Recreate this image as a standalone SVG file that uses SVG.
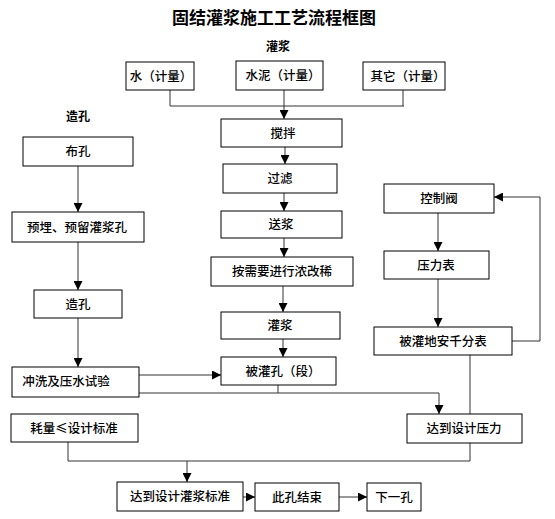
<svg xmlns="http://www.w3.org/2000/svg" width="555" height="519" viewBox="0 0 555 519">
<defs>
<marker id="ah" markerUnits="userSpaceOnUse" markerWidth="9" markerHeight="9" viewBox="0 0 10 10" refX="10" refY="5" orient="auto">
<path d="M0,0 L10,5 L0,10 Z" fill="#000"/>
</marker>
</defs>
<style>
.box{fill:#fff;stroke:#000;stroke-width:1}
.t{font-family:"Noto Sans CJK SC","Noto Sans CJK JP",sans-serif;font-size:12.5px;font-weight:500;fill:#000;text-anchor:middle}
.h{font-family:"Noto Sans CJK SC","Noto Sans CJK JP",sans-serif;font-weight:bold;fill:#000;text-anchor:middle}
.ln{fill:none;stroke:#333;stroke-width:1}
.ar{fill:none;stroke:#333;stroke-width:1;marker-end:url(#ah)}
</style>
<rect width="555" height="519" fill="#fff"/>
<text class="h" x="274" y="24" font-size="17">固结灌浆施工工艺流程框图</text>
<text class="h" x="278" y="51" font-size="12">灌浆</text>
<text class="h" x="78" y="121" font-size="12">造孔</text>

<g id="connectors">
<path class="ln" d="M170,90 V106 M403,90 V106 M170,106 H404"/>
<path class="ar" d="M284,90 V119"/>
<path class="ar" d="M285,147 V164"/>
<path class="ar" d="M284,193 V211"/>
<path class="ar" d="M284,238 V257"/>
<path class="ar" d="M283,286 V312"/>
<path class="ar" d="M283,339 V357"/>
<path class="ar" d="M78,166 V212"/>
<path class="ar" d="M78,242 V290"/>
<path class="ar" d="M78,318 V367"/>
<path class="ar" d="M139,375 H221"/>
<path class="ln" d="M139,393 H439 M278,385 V393"/>
<path class="ar" d="M439,393 V414"/>
<path class="ar" d="M438,213 V251"/>
<path class="ar" d="M438,279 V327"/>
<path class="ln" d="M512,341 H540 V197"/>
<path class="ar" d="M540,197 H494"/>
<path class="ln" d="M470,355 V461 M68,442 V461 M68,461 H470"/>
<path class="ar" d="M187,461 V482"/>
<path class="ar" d="M243,497 H255"/>
<path class="ar" d="M339,497 H367"/>
</g>

<g id="n_water"><rect class="box" x="126" y="62" width="68" height="28"/><text class="t" x="161" y="81" font-size="11">水（计量）</text></g>
<g id="n_cement"><rect class="box" x="236" y="61" width="87" height="29"/><text class="t" x="283" y="80" font-size="12">水泥（计量）</text></g>
<g id="n_other"><rect class="box" x="363" y="62" width="82" height="28"/><text class="t" x="408" y="81" font-size="12">其它（计量）</text></g>
<g id="n_mix"><rect class="box" x="221" y="119" width="121" height="28"/><text class="t" x="283" y="138">搅拌</text></g>
<g id="n_filter"><rect class="box" x="223" y="164" width="114" height="29"/><text class="t" x="280" y="183">过滤</text></g>
<g id="n_send"><rect class="box" x="221" y="211" width="121" height="27"/><text class="t" x="281" y="229">送浆</text></g>
<g id="n_adjust"><rect class="box" x="211" y="257" width="142" height="29"/><text class="t" x="282" y="276">按需要进行浓改稀</text></g>
<g id="n_grout"><rect class="box" x="221" y="312" width="119" height="27"/><text class="t" x="280" y="330">灌浆</text></g>
<g id="n_hole"><rect class="box" x="221" y="357" width="115" height="28"/><text class="t" x="283" y="376">被灌孔（段）</text></g>
<g id="n_valve"><rect class="box" x="384" y="184" width="110" height="29"/><text class="t" x="439" y="203">控制阀</text></g>
<g id="n_gauge"><rect class="box" x="384" y="251" width="105" height="28"/><text class="t" x="436" y="270">压力表</text></g>
<g id="n_dial"><rect class="box" x="374" y="327" width="138" height="28"/><text class="t" x="443" y="346">被灌地安千分表</text></g>
<g id="n_pressure"><rect class="box" x="407" y="414" width="115" height="29"/><text class="t" x="464" y="433">达到设计压力</text></g>
<g id="n_layout"><rect class="box" x="23" y="137" width="110" height="29"/><text class="t" x="78" y="156">布孔</text></g>
<g id="n_embed"><rect class="box" x="12" y="212" width="132" height="30"/><text class="t" x="77" y="232">预埋、预留灌浆孔</text></g>
<g id="n_drill"><rect class="box" x="34" y="290" width="88" height="28"/><text class="t" x="78" y="309">造孔</text></g>
<g id="n_flush"><rect class="box" x="12" y="367" width="127" height="30"/><text class="t" x="66" y="386">冲洗及压水试验</text></g>
<g id="n_consume"><rect class="box" x="11" y="414" width="127" height="28"/><text class="t" x="74" y="433">耗量≤设计标准</text></g>
<g id="n_standard"><rect class="box" x="117" y="482" width="126" height="29"/><text class="t" x="180" y="501">达到设计灌浆标准</text></g>
<g id="n_end"><rect class="box" x="255" y="483" width="84" height="28"/><text class="t" x="297" y="502">此孔结束</text></g>
<g id="n_next"><rect class="box" x="367" y="483" width="54" height="28"/><text class="t" x="394" y="502">下一孔</text></g>
</svg>
